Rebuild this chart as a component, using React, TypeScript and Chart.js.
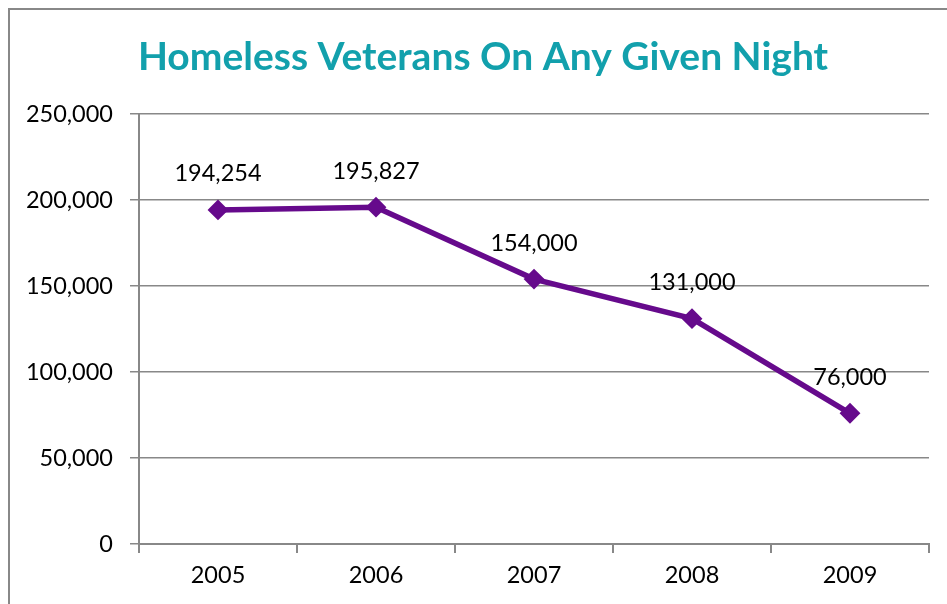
import React, { useEffect, useRef } from "react";
import { Chart, registerables } from "chart.js";

Chart.register(...registerables);

const years: string[] = ["2005", "2006", "2007", "2008", "2009"];
const veterans: number[] = [194254, 195827, 154000, 131000, 76000];
const yMin = 0;
const yMax = 250000;
const yStep = 50000;
const titleText = "Homeless Veterans On Any Given Night";

const fmt = (v: number) => v.toLocaleString("en-US");

export default function App() {
  const canvasRef = useRef<HTMLCanvasElement | null>(null);

  useEffect(() => {
    let chart: Chart | null = null;
    let cancelled = false;
    const make = () => {
      if (cancelled || !canvasRef.current) return;
      const labelFont = { family: "Lato", size: 23.5 };
      chart = new Chart(canvasRef.current, {
        type: "line",
        data: {
          labels: years,
          datasets: [
            {
              data: veterans,
              yAxisID: "y",
              borderColor: "#660a8c",
              backgroundColor: "#660a8c",
              borderWidth: 5.5,
              pointStyle: "rectRot",
              pointRadius: 9,
              pointBorderWidth: 2,
              pointBackgroundColor: "#660a8c",
              pointBorderColor: "#660a8c",
              tension: 0,
            },
          ],
        },
        options: {
          animation: false,
          responsive: false,
          maintainAspectRatio: false,
          layout: { padding: 0 },
          plugins: {
            legend: { display: false },
            tooltip: { enabled: false },
            title: {
              display: true,
              text: titleText,
              color: "#12a0ac",
              font: { family: "Lato", size: 39, weight: "bold" },
              padding: { top: 24.5, bottom: 32.7 },
            },
          },
          scales: {
            x: {
              offset: true,
              grid: {
                offset: true,
                drawOnChartArea: false,
                drawTicks: true,
                tickLength: 9,
                color: "#888",
                lineWidth: 2,
              },
              border: { color: "#888", width: 2 },
              ticks: { font: labelFont, color: "#000", padding: 8 },
              afterFit: (s: any) => {
                s.height = 62;
              },
            },
            y: {
              position: "left",
              min: yMin,
              max: yMax,
              ticks: {
                stepSize: yStep,
                font: labelFont,
                color: "#000",
                padding: 17,
                callback: (v: any) => fmt(Number(v)),
              },
              grid: { color: "#888", lineWidth: 1.5, tickLength: 9, drawTicks: true },
              border: { color: "#888", width: 2 },
              afterFit: (s: any) => {
                s.width = 129;
              },
            },
            spacer: {
              type: "linear",
              position: "right",
              min: yMin,
              max: yMax,
              ticks: { display: false },
              grid: { display: false, drawTicks: false },
              border: { display: false },
              afterFit: (s: any) => {
                s.width = 27;
              },
            },
          },
        },
        plugins: [
          {
            id: "dataLabels",
            afterDatasetsDraw(c: any) {
              const meta = c.getDatasetMeta(0);
              const ctx = c.ctx;
              ctx.save();
              ctx.font = "23.5px Lato";
              ctx.fillStyle = "#000";
              ctx.textAlign = "center";
              ctx.textBaseline = "middle";
              meta.data.forEach((pt: any, i: number) => {
                ctx.fillText(fmt(veterans[i]), pt.x, pt.y - 36);
              });
              ctx.restore();
            },
          },
        ],
      } as any);
    };
    const fontsApi: any = (document as any).fonts;
    if (fontsApi && fontsApi.load) {
      Promise.all([fontsApi.load("23px Lato"), fontsApi.load("bold 39px Lato")])
        .catch(() => {})
        .then(make);
    } else {
      make();
    }
    return () => {
      cancelled = true;
      if (chart) chart.destroy();
    };
  }, []);

  return (
    <div style={{ position: "fixed", inset: 0, overflow: "hidden", background: "#fff" }}>
      <div
        style={{
          position: "absolute",
          left: 8,
          top: 8,
          width: 946,
          height: 596,
          border: "2px solid #888",
          background: "#fff",
        }}
      >
        <canvas ref={canvasRef} width={946} height={596} style={{ display: "block", width: 946, height: 596 }} />
      </div>
    </div>
  );
}
